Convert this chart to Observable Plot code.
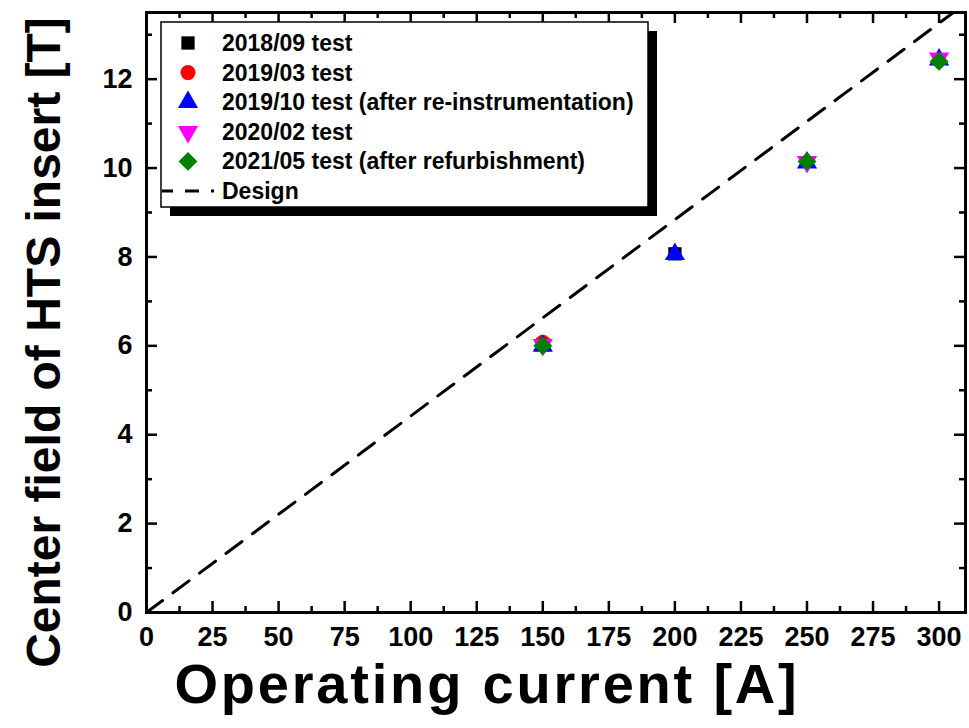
<!DOCTYPE html>
<html>
<head>
<meta charset="utf-8">
<script src="https://cdn.jsdelivr.net/npm/d3@7"></script>
<script src="https://cdn.jsdelivr.net/npm/@observablehq/plot@0.6"></script>
<style>
  html, body { margin: 0; padding: 0; background: #fff; }
  #chart svg { display: block; overflow: visible; }
</style>
</head>
<body>
<div id="chart"></div>
<script>
// Test campaigns of the HTS insert: operating current [A] vs. measured center field [T]
const testNames = [
  "2018/09 test",
  "2019/03 test",
  "2019/10 test (after re-instrumentation)",
  "2020/02 test",
  "2021/05 test (after refurbishment)"
];
const testSymbols = ["square", "circle", "triangle", "triangle", "diamond2"];
const testRotate = [0, 0, 0, 180, 0];
const testColors = ["#000000", "#ff0000", "#0000ff", "#ff00ff", "#008000"];

const current2018_09 = [150, 200];
const field2018_09 = [6.03, 8.07];
const current2019_03 = [150];
const field2019_03 = [6.08];
const current2019_10 = [150, 200, 250, 300];
const field2019_10 = [6.0, 8.06, 10.12, 12.44];
const current2020_02 = [150, 250, 300];
const field2020_02 = [6.02, 10.14, 12.47];
const current2021_05 = [150, 250, 300];
const field2021_05 = [6.0, 10.15, 12.4];

// Design load line of the insert
const designCurrent = [0, 305];
const designField = [0, 13.48];

// Axis ticks
const xMajor = [0, 25, 50, 75, 100, 125, 150, 175, 200, 225, 250, 275, 300];
const xMinor = [12.5, 37.5, 62.5, 87.5, 112.5, 137.5, 162.5, 187.5, 212.5, 237.5, 262.5, 287.5];
const yMajor = [0, 2, 4, 6, 8, 10, 12];
const yMinor = [1, 3, 5, 7, 9, 11, 13];

const xTitle = "Operating current [A]";
const yTitle = "Center field of HTS insert [T]";

const currents = [current2018_09, current2019_03, current2019_10, current2020_02, current2021_05];
const fields = [field2018_09, field2019_03, field2019_10, field2020_02, field2021_05];
const points = testNames.flatMap((name, k) =>
  currents[k].map((c, i) => ({test: name, k, current: c, field: fields[k][i]}))
);
const design = designCurrent.map((c, i) => ({current: c, field: designField[i]}));

const W = 969, H = 728;
const mL = 146, mR = 4, mT = 12, mB = 116;
const innerW = W - mL - mR, innerH = H - mT - mB;
const majorLen = 11, minorLen = 6;
const font = "Liberation Sans, Arial, Helvetica, sans-serif";

const tickStyle = {stroke: "#000", strokeWidth: 2.5};

const marks = [
  // inward ticks on all four sides
  Plot.tickX(xMajor, {x: d => d, insetTop: innerH - majorLen, ...tickStyle}),
  Plot.tickX(xMinor, {x: d => d, insetTop: innerH - minorLen, ...tickStyle}),
  Plot.tickX(xMajor, {x: d => d, insetBottom: innerH - majorLen, ...tickStyle}),
  Plot.tickX(xMinor, {x: d => d, insetBottom: innerH - minorLen, ...tickStyle}),
  Plot.tickY(yMajor, {y: d => d, insetRight: innerW - majorLen, ...tickStyle}),
  Plot.tickY(yMinor, {y: d => d, insetRight: innerW - minorLen, ...tickStyle}),
  Plot.tickY(yMajor, {y: d => d, insetLeft: innerW - majorLen, ...tickStyle}),
  Plot.tickY(yMinor, {y: d => d, insetLeft: innerW - minorLen, ...tickStyle}),
  Plot.axisX(xMajor, {tickSize: 0, tickPadding: 14, fontSize: 27, fontWeight: "bold", label: null}),
  Plot.axisY(yMajor, {tickSize: 0, tickPadding: 14, fontSize: 27, fontWeight: "bold", label: null}),
  Plot.line(design, {x: "current", y: "field", stroke: "#000", strokeWidth: 3, strokeDasharray: "20 13"}),
  ...testNames.map((name, k) =>
    Plot.dot(points.filter(p => p.k === k), {
      x: "current", y: "field",
      symbol: () => testSymbols[k],
      rotate: testRotate[k],
      fill: testColors[k],
      stroke: "none",
      r: k === 4 ? 8.5 : 7.5
    })
  ),
  Plot.frame({stroke: "#000", strokeWidth: 3}),
  Plot.text([xTitle], {frameAnchor: "bottom", textAnchor: "middle", dx: -69, dy: 73, fontSize: 56, fontWeight: "bold", lineAnchor: "middle"}),
  Plot.text([yTitle], {frameAnchor: "left", textAnchor: "middle", rotate: -90, dx: -102, dy: 30, fontSize: 48, fontWeight: "bold", lineAnchor: "middle"})
];

const chart = Plot.plot({
  width: W, height: H,
  marginLeft: mL, marginRight: mR, marginTop: mT, marginBottom: mB,
  style: {fontFamily: font, color: "#000", background: "#fff", overflow: "visible"},
  x: {domain: [0, 310], axis: null},
  y: {domain: [0, 13.5], axis: null},
  symbol: {type: "identity"},
  marks
});

document.getElementById("chart").appendChild(chart);

const svg = d3.select(chart);
// the x-axis title is set slightly tracked out
svg.selectAll("text").filter(function() { return this.textContent === xTitle; })
  .attr("letter-spacing", "2.8px");

// Legend box with drop shadow, drawn into the plot's SVG
const lg = svg.append("g").attr("font-family", font).attr("font-weight", "bold")
  .attr("font-size", 23).attr("text-anchor", "start");
const box = {x: 161, y: 22, w: 487, h: 185, shadow: 9};
lg.append("rect").attr("x", box.x + box.shadow).attr("y", box.y + box.shadow)
  .attr("width", box.w).attr("height", box.h).attr("fill", "#000");
lg.append("rect").attr("x", box.x).attr("y", box.y)
  .attr("width", box.w).attr("height", box.h).attr("fill", "#fff").attr("stroke", "#000").attr("stroke-width", 1.5);

const rowY = i => 43 + i * 29.6;
const symbolMap = {square: d3.symbolSquare, circle: d3.symbolCircle, triangle: d3.symbolTriangle, diamond2: d3.symbolDiamond2};
testNames.forEach((name, k) => {
  const r = k === 4 ? 8.5 : 7.5;
  lg.append("path")
    .attr("d", d3.symbol(symbolMap[testSymbols[k]], Math.PI * r * r)())
    .attr("transform", `translate(188,${rowY(k)}) rotate(${testRotate[k]})`)
    .attr("fill", testColors[k]);
  lg.append("text").attr("x", 222).attr("y", rowY(k)).attr("dy", "0.35em").text(name);
});
lg.append("line").attr("x1", 162).attr("x2", 214).attr("y1", rowY(5)).attr("y2", rowY(5))
  .attr("stroke", "#000").attr("stroke-width", 3).attr("stroke-dasharray", "14 12").attr("stroke-dashoffset", 3);
lg.append("text").attr("x", 222).attr("y", rowY(5)).attr("dy", "0.35em").text("Design");
</script>
</body>
</html>
